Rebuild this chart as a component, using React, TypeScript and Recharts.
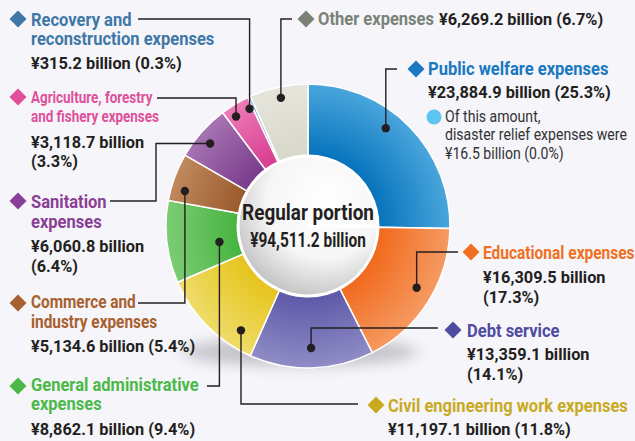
import { PieChart, Pie, Cell } from "recharts";

// Regular portion of local government expenditure, by purpose (billion yen)
const categories = [
  "Public welfare expenses",
  "Educational expenses",
  "Debt service",
  "Civil engineering work expenses",
  "General administrative expenses",
  "Commerce and industry expenses",
  "Sanitation expenses",
  "Agriculture, forestry and fishery expenses",
  "Recovery and reconstruction expenses",
  "Other expenses",
];
const amounts = [23884.9, 16309.5, 13359.1, 11197.1, 8862.1, 5134.6, 6060.8, 3118.7, 315.2, 6269.2];
const shares = [25.3, 17.3, 14.1, 11.8, 9.4, 5.4, 6.4, 3.3, 0.3, 6.7];
const titleLines = [
  ["Public welfare expenses"],
  ["Educational expenses"],
  ["Debt service"],
  ["Civil engineering work expenses"],
  ["General administrative", "expenses"],
  ["Commerce and", "industry expenses"],
  ["Sanitation", "expenses"],
  ["Agriculture, forestry", "and fishery expenses"],
  ["Recovery and", "reconstruction expenses"],
  ["Other expenses"],
];
const disasterRelief = { amount: 16.5, share: 0.0 };

const data = categories.map((name, i) => ({ name, value: amounts[i], share: shares[i] }));
const total = amounts.reduce((a, b) => a + b, 0);

const CX = 308;
const CY = 226;
const FONT = "Roboto, 'Liberation Sans', sans-serif";
const INK = "#231f20";

// slice colours: [inner, outer] for the radial shading
const sliceColors = [
  ["#0673bc", "#4aa6dc"],
  ["#f06a1c", "#f69a62"],
  ["#5e59a8", "#8f8cc6"],
  ["#e6c41c", "#efdc6a"],
  ["#46b440", "#7ccc74"],
  ["#9a5a2c", "#c08a5e"],
  ["#7a3c8c", "#a774b2"],
  ["#d83c90", "#ec7cb8"],
  ["#5a96cc", "#8cbce4"],
  ["#d8d7ca", "#e6e5dc"],
];
const titleColors = [
  "#1a78c2", "#f07022", "#4e4ba0", "#c9aa1e", "#4cb848",
  "#a8602e", "#8a3f96", "#e0509a", "#3f77a6", "#7a8278",
];

type Layout = {
  shift: number; // deg, counter-clockwise nudge of the dot from the slice middle
  r: number; // radius of the dot
  route: [string, number][];
  diamond: [number, number];
  x: number;
  titleY: number[];
  valueY: number[];
  valueX?: number;
  titleSize?: number;
  squeeze?: number;
};

const layout: Layout[] = [
  { shift: 7, r: 125, route: [["V", 69], ["H", 397]], diamond: [416, 69], x: 428, titleY: [75], valueY: [98] },
  { shift: 2.4, r: 125, route: [["V", 252], ["H", 458]], diamond: [471, 252], x: 483, titleY: [259], valueY: [283, 303], squeeze: 0.815 },
  { shift: 0, r: 122, route: [["V", 328], ["H", 438]], diamond: [453, 330], x: 467, titleY: [337], valueY: [360, 380] },
  { shift: 12.6, r: 124, route: [["V", 404], ["H", 358]], diamond: [376, 405], x: 388, titleY: [412], valueY: [435] },
  { shift: 3.7, r: 90, route: [["V", 386], ["H", 207]], diamond: [18, 386], x: 31, titleY: [391, 410], valueY: [435] },
  { shift: 4.3, r: 128, route: [["V", 303], ["H", 138]], diamond: [18, 303], x: 31, titleY: [308, 328], valueY: [352], squeeze: 0.81 },
  { shift: 1.4, r: 128, route: [["H", 156], ["V", 201], ["H", 110]], diamond: [18, 201], x: 31, titleY: [208, 228], valueY: [252, 272] },
  { shift: 2.3, r: 131, route: [["V", 98], ["H", 157]], diamond: [18, 97], x: 31, titleY: [103, 122], valueY: [148, 167], titleSize: 17, squeeze: 0.79 },
  { shift: 2, r: 131, route: [["V", 19], ["H", 138]], diamond: [18, 19], x: 31, titleY: [26, 45], valueY: [69] },
  { shift: 0, r: 131, route: [["V", 19], ["H", 292]], diamond: [306, 19], x: 318, titleY: [25], valueY: [25], valueX: 439 },
];

const fmtAmount = (v: number) =>
  "¥" + v.toLocaleString("en-US", { minimumFractionDigits: 1, maximumFractionDigits: 1 }) + " billion";

// condensed text: the original uses a narrow face, so squeeze horizontally around x
function NText(props: any) {
  const { x, y, k, children, ...rest } = props;
  return (
    <text x={x} y={y} transform={`translate(${x * (1 - k)} 0) scale(${k} 1)`} fontFamily={FONT} {...rest}>
      {children}
    </text>
  );
}

function renderLeader(props: any) {
  const { cx, cy, midAngle, index } = props;
  const lay = layout[index];
  const a = ((midAngle + lay.shift) * Math.PI) / 180;
  const x0 = cx + lay.r * Math.cos(a);
  const y0 = cy - lay.r * Math.sin(a);
  let d = `M${x0},${y0}`;
  lay.route.forEach(([c, v]) => (d += ` ${c}${v}`));

  const valueText = fmtAmount(amounts[index]);
  const pct = `(${shares[index].toFixed(1)}%)`;
  const values = lay.valueY.length > 1 ? [valueText, pct] : [`${valueText} ${pct}`];
  const [dx, dy] = lay.diamond;
  const s = 8.5;

  return (
    <g key={`lead-${index}`}>
      <path d={d} fill="none" stroke={INK} strokeWidth={1.4} />
      <circle cx={x0} cy={y0} r={4.2} fill={INK} />
      <polygon points={`${dx},${dy - s} ${dx + s},${dy} ${dx},${dy + s} ${dx - s},${dy}`} fill={titleColors[index]} />
      {titleLines[index].map((t, k) => (
        <NText
          key={`t${k}`}
          x={lay.x}
          y={lay.titleY[k]}
          k={lay.squeeze ?? 0.87}
          fill={titleColors[index]}
          fontWeight={700}
          fontSize={lay.titleSize ?? 19}
        >
          {t}
        </NText>
      ))}
      {values.map((t, k) => (
        <NText key={`v${k}`} x={lay.valueX ?? lay.x} y={lay.valueY[k]} k={0.96} fill={INK} fontWeight={700} fontSize={17}>
          {t}
        </NText>
      ))}
      {index === 0 && (
        <g>
          <circle cx={434} cy={117} r={7.5} fill="#5cc4f0" />
          <NText x={445} y={122} k={0.88} fill="#333" fontSize={16}>Of this amount,</NText>
          <NText x={445} y={140} k={0.88} fill="#333" fontSize={16}>disaster relief expenses were</NText>
          <NText x={445} y={159} k={0.88} fill="#333" fontSize={16}>
            {`${fmtAmount(disasterRelief.amount)} (${disasterRelief.share.toFixed(1)}%)`}
          </NText>
        </g>
      )}
    </g>
  );
}

function renderHub(props: any) {
  const { cx, cy } = props;
  return (
    <g>
      <NText x={cx} y={cy - 6} k={0.86} textAnchor="middle" fill={INK} fontWeight={700} fontSize={22}>
        Regular portion
      </NText>
      <NText x={cx} y={cy + 21} k={0.79} textAnchor="middle" fill={INK} fontWeight={700} fontSize={19.5}>
        {fmtAmount(total)}
      </NText>
    </g>
  );
}

export default function App() {
  return (
    <div style={{ position: "absolute", left: 0, top: 0, width: 635, height: 441, background: "#f5f5fa" }}>
      <PieChart width={635} height={441} margin={{ top: 0, right: 0, bottom: 0, left: 0 }}>
        <defs>
          {sliceColors.map(([inner, outer], i) => (
            <radialGradient key={i} id={`slice${i}`} gradientUnits="userSpaceOnUse" cx={CX} cy={CY} r={142}>
              <stop offset="0.5" stopColor={inner} />
              <stop offset="1" stopColor={outer} />
            </radialGradient>
          ))}
          <radialGradient id="hub" cx="62%" cy="32%" r="75%">
            <stop offset="0" stopColor="#ffffff" />
            <stop offset="0.55" stopColor="#f6f6f6" />
            <stop offset="1" stopColor="#bdbdbd" />
          </radialGradient>
          <filter id="shade" x="-30%" y="-100%" width="160%" height="300%">
            <feGaussianBlur stdDeviation="7" />
          </filter>
        </defs>
        <ellipse cx={300} cy={352} rx={118} ry={14} fill="#9a9aa0" opacity={0.55} filter="url(#shade)" />
        <Pie
          data={data}
          dataKey="value"
          nameKey="name"
          cx={CX}
          cy={CY}
          innerRadius={66}
          outerRadius={142}
          startAngle={90}
          endAngle={-270}
          stroke="#ffffff"
          strokeWidth={1.5}
          label={renderLeader}
          labelLine={false}
          isAnimationActive={false}
        >
          {data.map((d, i) => (
            <Cell key={d.name} fill={`url(#slice${i})`} />
          ))}
        </Pie>
        <Pie
          data={[{ name: "Regular portion", value: total }]}
          dataKey="value"
          cx={CX}
          cy={CY}
          innerRadius={0}
          outerRadius={70}
          fill="url(#hub)"
          stroke="#ffffff"
          strokeWidth={3}
          label={renderHub}
          labelLine={false}
          isAnimationActive={false}
        />
      </PieChart>
    </div>
  );
}
